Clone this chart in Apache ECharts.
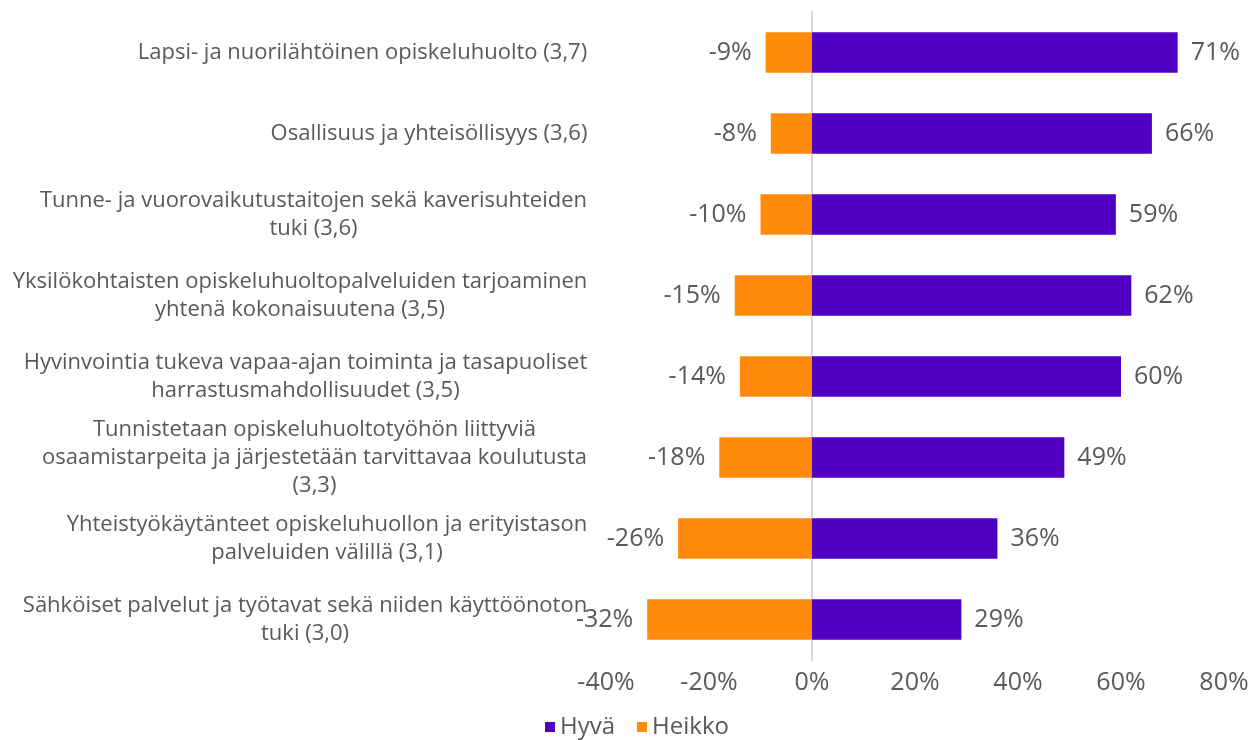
<!DOCTYPE html>
<html>
<head>
<meta charset="utf-8">
<script src="https://cdn.jsdelivr.net/npm/echarts@6/dist/echarts.min.js"></script>
<style>
  html, body { margin: 0; padding: 0; background: #fff; }
  #chart { width: 1253px; height: 740px; }
</style>
</head>
<body>
<div id="chart"></div>
<script>
// osa-alueet (keskiarvo suluissa)
var categories = [
  'Lapsi- ja nuorilähtöinen opiskeluhuolto (3,7)',
  'Osallisuus ja yhteisöllisyys (3,6)',
  'Tunne- ja vuorovaikutustaitojen sekä kaverisuhteiden\ntuki (3,6)',
  'Yksilökohtaisten opiskeluhuoltopalveluiden tarjoaminen\nyhtenä kokonaisuutena (3,5)',
  'Hyvinvointia tukeva vapaa-ajan toiminta ja tasapuoliset\nharrastusmahdollisuudet (3,5)',
  'Tunnistetaan opiskeluhuoltotyöhön liittyviä\nosaamistarpeita ja järjestetään tarvittavaa koulutusta\n(3,3)',
  'Yhteistyökäytänteet opiskeluhuollon ja erityistason\npalveluiden välillä (3,1)',
  'Sähköiset palvelut ja työtavat sekä niiden käyttöönoton\ntuki (3,0)'
];
var hyva = [71, 66, 59, 62, 60, 49, 36, 29];
var heikko = [-9, -8, -10, -15, -14, -18, -26, -32];

var textColor = '#595959';
var font = 'Open Sans';
var catSize = 22;

// wrapped labels are centred inside their own block, block right-aligned
var ctx = document.createElement('canvas').getContext('2d');
ctx.font = catSize + 'px "' + font + '"';
var rich = {};
categories.forEach(function (c, i) {
  var w = 0;
  c.split('\n').forEach(function (l) { w = Math.max(w, ctx.measureText(l).width); });
  rich['c' + i] = {
    width: Math.ceil(w) + 1, align: 'center',
    fontSize: catSize, lineHeight: 28, color: textColor, fontFamily: font
  };
});

var chart = echarts.init(document.getElementById('chart'));
var option = {
  animation: false,
  textStyle: { fontFamily: font, color: textColor },
  grid: { left: 606, right: 29, top: 12, bottom: 80 },
  legend: {
    top: 710,
    left: 540,
    itemWidth: 10,
    itemHeight: 10,
    itemGap: 22,
    itemTextGap: 4,
    icon: 'rect',
    textStyle: { fontSize: 24, color: textColor, fontFamily: font },
    data: ['Hyvä', 'Heikko']
  },
  xAxis: {
    type: 'value',
    min: -40,
    max: 80,
    interval: 20,
    axisLine: { show: false },
    axisTick: { show: false },
    splitLine: { show: false },
    axisLabel: { formatter: '{value}%', fontSize: 25, color: textColor, margin: 10 }
  },
  yAxis: {
    type: 'category',
    inverse: true,
    data: categories,
    axisTick: { show: false },
    axisLine: { show: true, onZero: true, lineStyle: { color: '#d9d9d9', width: 2 } },
    axisLabel: {
      fontSize: catSize,
      lineHeight: 28,
      color: textColor,
      align: 'right',
      margin: 18,
      rich: rich,
      formatter: function (v, i) {
        return v.split('\n').map(function (l) { return '{c' + i + '|' + l + '}'; }).join('\n');
      }
    }
  },
  series: [
    {
      name: 'Hyvä',
      type: 'bar',
      stack: 'total',
      barWidth: '50%',
      itemStyle: { color: '#5000C0' },
      label: { show: true, position: 'right', distance: 13, formatter: '{c}%', fontSize: 25, color: textColor },
      data: hyva
    },
    {
      name: 'Heikko',
      type: 'bar',
      stack: 'total',
      barWidth: '50%',
      itemStyle: { color: '#FF8A0C' },
      label: { show: true, position: 'left', distance: 14, formatter: '{c}%', fontSize: 25, color: textColor },
      data: heikko
    }
  ]
};
chart.setOption(option);
</script>
</body>
</html>
